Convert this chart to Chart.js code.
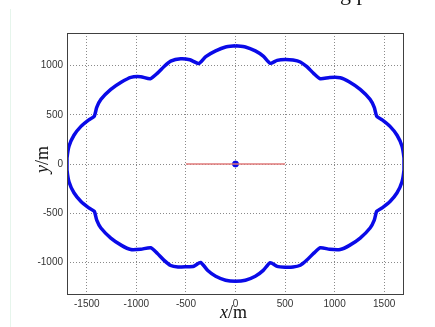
<!DOCTYPE html>
<html>
<head>
<meta charset="utf-8">
<script src="https://cdn.jsdelivr.net/npm/chart.js@4.4.1/dist/chart.umd.min.js"></script>
<style>
  body { margin: 0; background: #fff; }
  #wrap { position: relative; width: 435px; height: 327px; overflow: hidden; }
  #frame { position: absolute; left: 10px; top: 9px; width: 1px; height: 318px; background: #e6f5ec; }
  .ttl { position: absolute; font-family: "Liberation Serif", serif; font-size: 18px; color: #111; white-space: nowrap; }
  #xt { left: 220px; top: 302px; }
  #yt { left: 29px; top: 149px; transform: rotate(-90deg); transform-origin: 50% 50%; }
  #cap { position: absolute; left: 340px; top: -18px; font-family: "Liberation Serif", serif; font-size: 22px; line-height: 22px; color: #111; }
</style>
</head>
<body>
<div id="wrap">
  <div id="frame"></div>
  <div id="cap">g&nbsp;p</div>
  <canvas id="c" width="435" height="327"></canvas>
  <div class="ttl" id="xt"><i>x</i>/m</div>
  <div class="ttl" id="yt"><i>y</i>/m</div>
</div>
<script>
// boundary curve (clockwise from the top)
var boundaryX = [0, 100, 200, 280, 350, 420, 500, 580, 654, 720, 790, 855, 950, 1056, 1150, 1258, 1358, 1400, 1425, 1480, 1559, 1630, 1680, 1700,
  1700, 1700, 1680, 1630, 1559, 1480, 1425, 1400, 1358, 1258, 1150, 1056, 950, 855, 790, 720, 654, 580, 500, 420, 350, 280, 200, 100,
  0, -100, -200, -280, -352, -420, -503, -580, -654, -720, -790, -855, -956, -1056, -1150, -1258, -1358, -1400, -1425, -1480, -1559, -1630, -1680, -1700,
  -1700, -1700, -1680, -1630, -1559, -1480, -1425, -1400, -1358, -1258, -1150, -1056, -956, -860, -790, -720, -654, -553, -460, -369, -300, -200, -100, 0];
var boundaryY = [1200, 1188, 1148, 1095, 1022, 1052, 1062, 1056, 1036, 988, 918, 866, 878, 876, 832, 757, 656, 575, 485, 448, 382, 292, 180, 60,
  0, -60, -180, -292, -380, -445, -480, -570, -650, -752, -826, -868, -866, -850, -905, -975, -1028, -1046, -1048, -1040, -1003, -1080, -1140, -1180,
  -1190, -1180, -1140, -1082, -1000, -1038, -1044, -1046, -1030, -978, -906, -850, -865, -868, -826, -752, -650, -570, -480, -445, -380, -292, -180, -60,
  0, 60, 180, 292, 382, 448, 485, 575, 656, 757, 832, 880, 886, 866, 920, 990, 1044, 1069, 1058, 1021, 1090, 1148, 1188, 1200];

// red baseline and centre point
var lineX = [-500, 500];
var lineY = [0, 0];
var centerX = [0];
var centerY = [0];

var xTicks = [-1500, -1000, -500, 0, 500, 1000, 1500];
var yTicks = [-1000, -500, 0, 500, 1000];

function pts(xs, ys) {
  return xs.map((x, i) => ({x: x, y: ys[i]}));
}

// box round the plot area, as matlab draws it
var boxPlugin = {
  id: 'box',
  afterDraw(chart) {
    var a = chart.chartArea, ctx = chart.ctx;
    ctx.save();
    ctx.strokeStyle = '#404040';
    ctx.lineWidth = 1;
    ctx.strokeRect(a.left + 0.5, a.top + 0.5, a.right - a.left - 1, a.bottom - a.top - 1);
    ctx.restore();
  }
};

var gridOpts = {
  color: '#8a8a8a',
  lineWidth: 1,
  drawTicks: false
};

new Chart(document.getElementById('c'), {
  type: 'scatter',
  data: {
    datasets: [
      {
        data: pts(lineX, lineY),
        showLine: true,
        borderColor: '#e07a7a',
        borderWidth: 1.5,
        pointRadius: 0
      },
      {
        data: pts(boundaryX, boundaryY),
        showLine: true,
        borderColor: '#0a0ae8',
        borderWidth: 3.5,
        pointRadius: 0,
        tension: 0.2
      },
      {
        data: pts(centerX, centerY),
        backgroundColor: '#0a0ae8',
        borderColor: '#0a0ae8',
        pointRadius: 3
      }
    ]
  },
  options: {
    responsive: false,
    animation: false,
    devicePixelRatio: 1,
    layout: { padding: { left: 0, top: 33, right: 31, bottom: 0 } },
    plugins: { legend: { display: false }, tooltip: { enabled: false } },
    scales: {
      x: {
        type: 'linear',
        min: -1700,
        max: 1700,
        afterBuildTicks: s => { s.ticks = xTicks.map(v => ({value: v})); },
        afterFit: s => { s.height = 32; },
        grid: Object.assign({}, gridOpts),
        border: { display: false, dash: [1, 2] },
        ticks: {
          padding: 3,
          color: '#333',
          font: { family: 'Liberation Sans', size: 10 },
          maxRotation: 0,
          callback: v => String(v)
        }
      },
      y: {
        type: 'linear',
        min: -1330,
        max: 1330,
        afterBuildTicks: s => { s.ticks = yTicks.map(v => ({value: v})); },
        afterFit: s => { s.width = 67; },
        grid: Object.assign({}, gridOpts),
        border: { display: false, dash: [1, 2] },
        ticks: {
          padding: 4,
          color: '#333',
          font: { family: 'Liberation Sans', size: 10 },
          callback: v => String(v)
        }
      }
    }
  },
  plugins: [boxPlugin]
});
</script>
</body>
</html>
